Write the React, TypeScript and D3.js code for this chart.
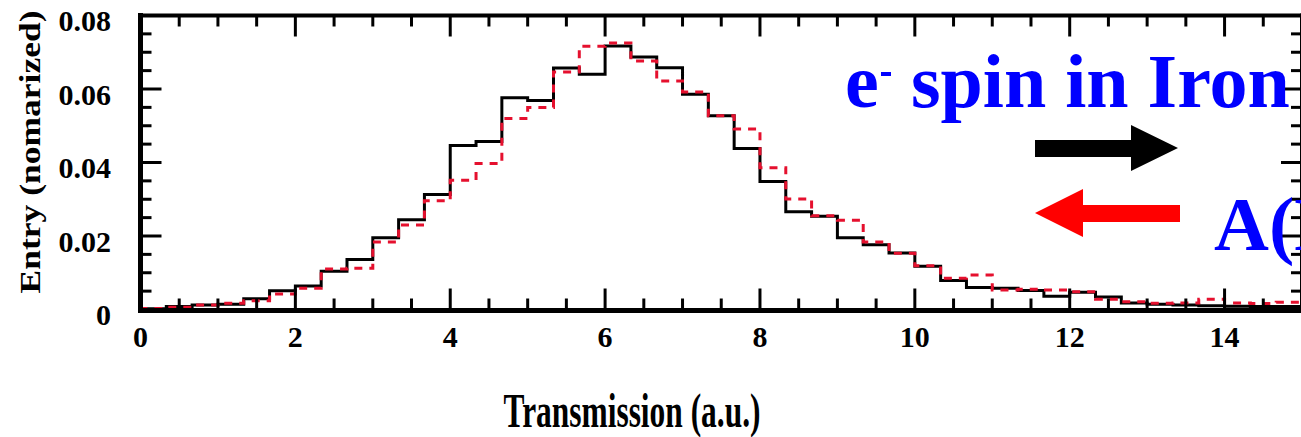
import React from "react";
import * as d3 from "d3";

// ---- data ----
const BIN_WIDTH = 1 / 3;
const X_MAX = 15;
const blackValues = [
  0.0002, 0.0008, 0.0012, 0.0014, 0.0029, 0.0051, 0.0064, 0.0104, 0.0136, 0.0195,
  0.0244, 0.0313, 0.0446, 0.0457, 0.0576, 0.0569, 0.0657, 0.064, 0.0717, 0.0687,
  0.0658, 0.0586, 0.0527, 0.0438, 0.0348, 0.0266, 0.0254, 0.0195, 0.0176, 0.0154,
  0.0118, 0.0079, 0.006, 0.0058, 0.0052, 0.0036, 0.0047, 0.0034, 0.0018, 0.0014,
  0.0012, 0.001, 0.0009, 0.0008, 0.0008,
];
const redValues = [
  0.0003, 0.0006, 0.0012, 0.0017, 0.0024, 0.0042, 0.0058, 0.011, 0.0112, 0.0184,
  0.023, 0.0296, 0.0352, 0.0397, 0.052, 0.055, 0.0646, 0.0716, 0.0725, 0.0676,
  0.0622, 0.0592, 0.0527, 0.0491, 0.0386, 0.0301, 0.0255, 0.0243, 0.0184, 0.0153,
  0.0119, 0.0085, 0.0094, 0.0053, 0.0055, 0.0053, 0.0048, 0.0028, 0.0021, 0.0017,
  0.0018, 0.0028, 0.0018, 0.0016, 0.002,
];
const xTicks = [0, 2, 4, 6, 8, 10, 12, 14];
const yTicks = [0, 0.02, 0.04, 0.06, 0.08];
const yTickLabels = ["0", "0.02", "0.04", "0.06", "0.08"];
const xTitle = "Transmission (a.u.)";
const yTitle = "Entry (nomarized)";

const W = 1301;
const H = 437;
const FONT = "'Liberation Serif', 'Times New Roman', serif";

export default function App() {
  const x = d3.scaleLinear().domain([0, X_MAX]).range([140.5, 1302]);
  const y = d3.scaleLinear().domain([0, 0.08]).range([309.5, 15.5]);

  const stepPath = (vals: number[]) => {
    const pts: [number, number][] = [[0, 0]];
    vals.forEach((v, i) => pts.push([i * BIN_WIDTH, v]));
    pts.push([vals.length * BIN_WIDTH, vals[vals.length - 1]]);
    return d3
      .line<[number, number]>()
      .x((d) => x(d[0]))
      .y((d) => y(d[1]))
      .curve(d3.curveStepAfter)(pts) as string;
  };

  const xMinor = d3.range(0, X_MAX + 0.001, 0.5).filter((v) => Math.abs(v % 2) > 1e-6);
  const yMinor = d3
    .range(0, 0.0801, 0.005)
    .filter((v) => Math.abs(v / 0.02 - Math.round(v / 0.02)) > 1e-6);

  const x0 = x(0);
  const x1 = x(X_MAX);
  const y0 = y(0);
  const y1 = y(0.08);
  const MAJ = 21;
  const MIN = 11;

  return (
    <svg
      width={W}
      height={H}
      style={{ position: "fixed", left: 0, top: 0, background: "#fff" }}
      fontFamily={FONT}
    >
      <rect x={0} y={0} width={W} height={H} fill="#fff" />
      <clipPath id="plotclip">
        <rect x={x0} y={y1 - 2} width={x1 - x0} height={y0 - y1 + 4} />
      </clipPath>

      {/* histograms */}
      <g clipPath="url(#plotclip)">
        <path d={stepPath(blackValues)} fill="none" stroke="#000" strokeWidth={3} />
        <path
          d={stepPath(redValues)}
          fill="none"
          stroke="#e5102e"
          strokeWidth={3}
          strokeDasharray="8,7"
        />
      </g>

      {/* ticks */}
      <g stroke="#000" strokeWidth={3}>
        {xTicks.map((t) => (
          <g key={"xt" + t}>
            <line x1={x(t)} x2={x(t)} y1={y0} y2={y0 - MAJ} />
            <line x1={x(t)} x2={x(t)} y1={y1} y2={y1 + MAJ} />
          </g>
        ))}
        {xMinor.map((t) => (
          <g key={"xm" + t}>
            <line x1={x(t)} x2={x(t)} y1={y0} y2={y0 - MIN} />
            <line x1={x(t)} x2={x(t)} y1={y1} y2={y1 + MIN} />
          </g>
        ))}
        {yTicks.map((t) => (
          <g key={"yt" + t}>
            <line x1={x0} x2={x0 + MAJ} y1={y(t)} y2={y(t)} />
            <line x1={x1} x2={x1 - MAJ} y1={y(t)} y2={y(t)} />
          </g>
        ))}
        {yMinor.map((t) => (
          <g key={"ym" + t}>
            <line x1={x0} x2={x0 + MIN} y1={y(t)} y2={y(t)} />
            <line x1={x1} x2={x1 - MIN} y1={y(t)} y2={y(t)} />
          </g>
        ))}
      </g>

      {/* frame */}
      <g stroke="#000" strokeLinecap="square">
        <line x1={x0} x2={x1} y1={y0 + 1} y2={y0 + 1} strokeWidth={5} />
        <line x1={x0} x2={x1} y1={y1} y2={y1} strokeWidth={4} />
        <line x1={x0} x2={x0} y1={y1} y2={y0 + 1} strokeWidth={5} />
        <line x1={x1} x2={x1} y1={y1} y2={y0 + 1} strokeWidth={4} />
      </g>

      {/* tick labels */}
      <g fontWeight="bold" fontSize={30} fill="#000">
        {xTicks.map((t) => (
          <text key={"xl" + t} x={x(t)} y={347} textAnchor="middle">
            {t}
          </text>
        ))}
        {yTicks.map((t, i) => (
          <text
            key={"yl" + t}
            x={111}
            y={y(t) + 5}
            textAnchor="end"
            dominantBaseline="central"
          >
            {yTickLabels[i]}
          </text>
        ))}
      </g>

      {/* axis titles */}
      <text
        x={632}
        y={427}
        textAnchor="middle"
        fontWeight="bold"
        fontSize={48}
        textLength={257}
        lengthAdjust="spacingAndGlyphs"
      >
        {xTitle}
      </text>
      <text
        transform="translate(40,152) rotate(-90)"
        textAnchor="middle"
        fontWeight="bold"
        fontSize={30}
        textLength={283}
        lengthAdjust="spacingAndGlyphs"
      >
        {yTitle}
      </text>

      {/* annotations */}
      <text x={845} y={107} fill="#0000ff" fontWeight="bold" fontSize={76}>
        e
      </text>
      <rect x={881} y={72} width={10} height={4} fill="#0000ff" />
      <text x={911} y={107} fill="#0000ff" fontWeight="bold" fontSize={76}>
        spin in Iron
      </text>
      <polygon
        points="1035,140 1131,140 1131,125 1178,148 1131,171 1131,157 1035,157"
        fill="#000"
      />
      <polygon
        points="1180,205 1083,205 1083,189 1035,213 1083,237 1083,222 1180,222"
        fill="#ff0000"
      />
      <text x={1214} y={250} fill="#0000ff" fontWeight="bold" fontSize={76}>
        A(E)
      </text>
    </svg>
  );
}
